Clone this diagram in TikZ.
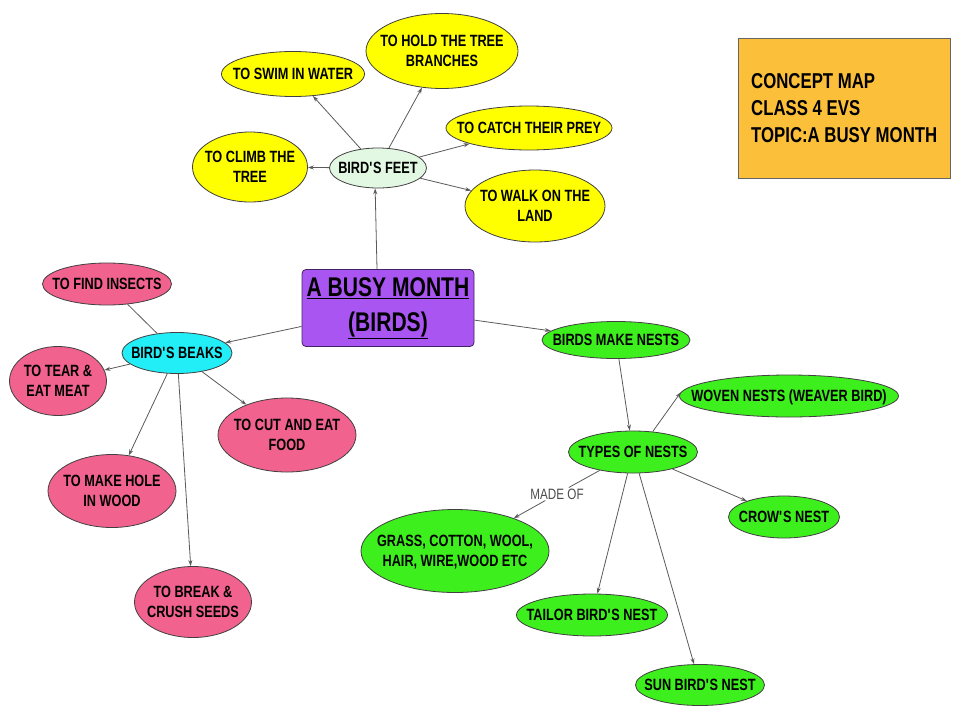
\documentclass[tikz,border=0pt]{standalone}
\usepackage{fontspec}
\setmainfont{Liberation Sans}[FakeStretch=0.78]
\usetikzlibrary{shapes.geometric,arrows.meta,calc}
\definecolor{cyel}{HTML}{FFFF00}
\definecolor{cfeet}{HTML}{E2F8E2}
\definecolor{cpink}{HTML}{F2628F}
\definecolor{ccyan}{HTML}{22EEF8}
\definecolor{cgreen}{HTML}{3DEF1C}
\definecolor{cpurple}{HTML}{A955F2}
\definecolor{corange}{HTML}{FBBF3A}
\definecolor{cline}{HTML}{5A5A5A}
\newcommand\bt[1]{\makebox[0pt]{\raisebox{-0.36em}[0pt][0pt]{\begin{tabular}{@{}c@{}}#1\end{tabular}}}}
\newcommand\ap{\textquotesingle}
\tikzset{
  bub/.style={ellipse, draw=black!75, line width=0.8pt, inner sep=0pt,
    font=\bfseries\fontsize{16.3}{20}\selectfont},
  conn/.style={draw=cline, line width=0.8pt, -{Stealth[length=6pt,width=4pt]}},
  plain/.style={draw=cline, line width=0.8pt},
}
\begin{document}
\begin{tikzpicture}[x=1pt,y=-1pt]
\useasboundingbox (0,0) rectangle (960,720);
\fill[white] (0,0) rectangle (960,720);

% centre
\node[draw=black!60!cpurple, fill=cpurple, rounded corners=4pt, line width=0.8pt,
  minimum width=172pt, minimum height=77pt, inner sep=0pt, align=center,
  font=\bfseries\fontsize{27}{35}\selectfont] (ctr) at (388,308)
  {\underline{A BUSY MONTH}\\\underline{(BIRDS)}};

% title box
\node[draw=black!60, fill=corange, line width=0.8pt, minimum width=212pt, minimum height=140pt,
  inner sep=0pt] (title) at (844,108) {};
\node[anchor=west, align=left, inner sep=0pt, font=\bfseries\fontsize{21.5}{27}\selectfont]
  (titletxt) at (751,108) {CONCEPT MAP\\CLASS 4 EVS\\TOPIC:A BUSY MONTH};

% feet
\node[bub, fill=cfeet, minimum width=97pt, minimum height=40pt] (feet) at (378,168) {\bt{BIRD\ap S FEET}};
\node[bub, fill=cyel, minimum width=143pt, minimum height=45pt] (swim) at (293,74) {\bt{TO SWIM IN WATER}};
\node[bub, fill=cyel, minimum width=152pt, minimum height=75pt] (hold) at (442,51) {\bt{TO HOLD THE TREE\\BRANCHES}};
\node[bub, fill=cyel, minimum width=166pt, minimum height=44pt] (catch) at (529,128) {\bt{TO CATCH THEIR PREY}};
\node[bub, fill=cyel, minimum width=115pt, minimum height=70pt] (climb) at (250,167) {\bt{TO CLIMB THE\\TREE}};
\node[bub, fill=cyel, minimum width=140pt, minimum height=72pt] (walk) at (535,206) {\bt{TO WALK ON THE\\LAND}};

% beaks
\node[bub, fill=ccyan, minimum width=110pt, minimum height=41pt] (beaks) at (177,353) {\bt{BIRD\ap S BEAKS}};
\node[bub, fill=cpink, minimum width=129pt, minimum height=42pt] (insects) at (107,284) {\bt{TO FIND INSECTS}};
\node[bub, fill=cpink, minimum width=97pt, minimum height=69pt] (tear) at (58,381) {\bt{TO TEAR \&\\EAT MEAT}};
\node[bub, fill=cpink, minimum width=138pt, minimum height=74pt] (cut) at (287,435) {\bt{TO CUT AND EAT\\FOOD}};
\node[bub, fill=cpink, minimum width=128pt, minimum height=73pt] (hole) at (112,491) {\bt{TO MAKE HOLE\\IN WOOD}};
\node[bub, fill=cpink, minimum width=117pt, minimum height=71pt] (seeds) at (193,602) {\bt{TO BREAK \&\\CRUSH SEEDS}};

% nests
\node[bub, fill=cgreen, minimum width=148pt, minimum height=37pt] (make) at (616,340) {\bt{BIRDS MAKE NESTS}};
\node[bub, fill=cgreen, minimum width=219pt, minimum height=42pt] (woven) at (789,396) {\bt{WOVEN NESTS (WEAVER BIRD)}};
\node[bub, fill=cgreen, minimum width=129pt, minimum height=42pt] (types) at (633,452) {\bt{TYPES OF NESTS}};
\node[bub, fill=cgreen, minimum width=111pt, minimum height=42pt] (crow) at (784,517) {\bt{CROW\ap S NEST}};
\node[bub, fill=cgreen, minimum width=188pt, minimum height=83pt] (grass) at (455,551) {\bt{GRASS, COTTON, WOOL,\\HAIR, WIRE,WOOD ETC}};
\node[bub, fill=cgreen, minimum width=151pt, minimum height=42pt] (tailor) at (592,615) {\bt{TAILOR BIRD\ap S NEST}};
\node[bub, fill=cgreen, minimum width=129pt, minimum height=41pt] (sun) at (700,685) {\bt{SUN BIRD\ap S NEST}};
\node[inner sep=1pt, text=black!70, font=\fontsize{15}{18}\selectfont] (madeof) at (557,494) {MADE OF};

% connectors
\draw[conn] ($(ctr.north)+(-11,0)$) -- (feet.262);
\draw[conn] (feet) -- (swim);
\draw[conn] (feet) -- (hold);
\draw[conn] (feet) -- (catch);
\draw[conn] (feet) -- (climb);
\draw[conn] (feet) -- (walk);

\draw[conn] (ctr) -- (beaks);
\draw[plain] (beaks) -- (insects);
\draw[conn] (beaks) -- (tear);
\draw[conn] (beaks) -- (cut);
\draw[conn] (beaks) -- (hole);
\draw[conn] (beaks) -- (seeds);

\draw[conn] (ctr) -- (make);
\draw[conn] (make) -- (types);
\draw[conn] (types.46) -- (woven.178);
\draw[conn] (types) -- (crow);
\draw[conn] (types) -- (tailor);
\draw[conn] (types) -- (sun);
\draw[plain] (types) -- (madeof);
\draw[conn] (madeof) -- (grass);
\end{tikzpicture}
\end{document}
